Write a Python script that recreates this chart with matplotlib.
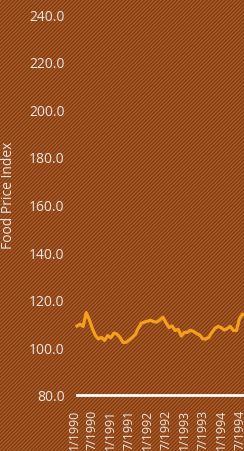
import matplotlib
matplotlib.use("Agg")
import matplotlib.pyplot as plt
import matplotlib.transforms as mtransforms
from matplotlib.patches import Rectangle

plt.rcParams['font.family'] = ['Open Sans', 'DejaVu Sans']
plt.rcParams['hatch.linewidth'] = 0.8

# monthly food price index, 1/1990 onwards
food_index = [109.0, 109.7, 108.8, 114.6, 111.7, 107.9, 105.0, 103.5, 104.2, 102.9,
              105.0, 104.0, 106.0, 105.6, 104.2, 102.1, 102.1, 103.1, 104.2, 105.4,
              108.1, 110.2, 110.6, 111.0, 111.4, 110.8, 110.6, 111.5, 112.7, 110.4,
              108.3, 109.0, 107.1, 107.6, 104.8, 106.3, 106.3, 107.2, 106.7, 105.8,
              105.2, 103.6, 103.5, 104.2, 106.3, 108.1, 108.8, 108.3, 107.3, 107.9,
              108.8, 107.1, 107.1, 112.1, 114.0, 113.5, 112.0]
tick_labels = ['1/1990', '7/1990', '1/1991', '7/1991', '1/1992', '7/1992',
               '1/1993', '7/1993', '1/1994', '7/1994']
y_ticks = [80, 100, 120, 140, 160, 180, 200, 220, 240]

bg = '#aa5a24'
stripe = '#7a3813'
txt = '#ebe6e2'
line_col = '#f5a01c'

W, H = 244, 452
fig = plt.figure(figsize=(W / 100, H / 100), dpi=100)
fig.patch.set_facecolor(bg)
fig.patches.append(Rectangle((0, 0), 1, 1, transform=fig.transFigure,
                             facecolor=bg, edgecolor=stripe, hatch='/////////',
                             linewidth=0, zorder=-10))

# axes runs past the right edge, the picture is cropped
ax_w = 184
ax = fig.add_axes([77 / W, 56 / H, ax_w / W, 381 / H])
ax.patch.set_visible(False)

ax.plot(range(len(food_index)), food_index, color=line_col, lw=2.3,
        solid_joinstyle='round', clip_on=False)

ax.set_xlim(0, 60)
ax.set_ylim(80, 240)
ax.set_yticks(y_ticks)
ax.set_yticklabels([f'{v:.1f}' for v in y_ticks])
ax.set_xticks(range(0, 6 * len(tick_labels), 6))
ax.set_xticklabels(tick_labels, rotation=90)

ax.tick_params(axis='y', length=0, pad=9, labelsize=10, labelcolor=txt)
ax.tick_params(axis='x', length=0, pad=10, labelsize=9, labelcolor=txt)
shift = mtransforms.ScaledTranslation(-3 / 100, 0, fig.dpi_scale_trans)
for lab in ax.get_xticklabels():
    lab.set_va('top')
    lab.set_transform(lab.get_transform() + shift)

for s in ['top', 'right', 'left']:
    ax.spines[s].set_visible(False)
ax.spines['bottom'].set_color('white')
ax.spines['bottom'].set_linewidth(2)

ax.set_ylabel('Food Price Index', color=txt, fontsize=10, va='center')
ax.yaxis.set_label_coords(-68 / ax_w, 0.528)

fig.savefig('out.png', dpi=100, facecolor=bg)
